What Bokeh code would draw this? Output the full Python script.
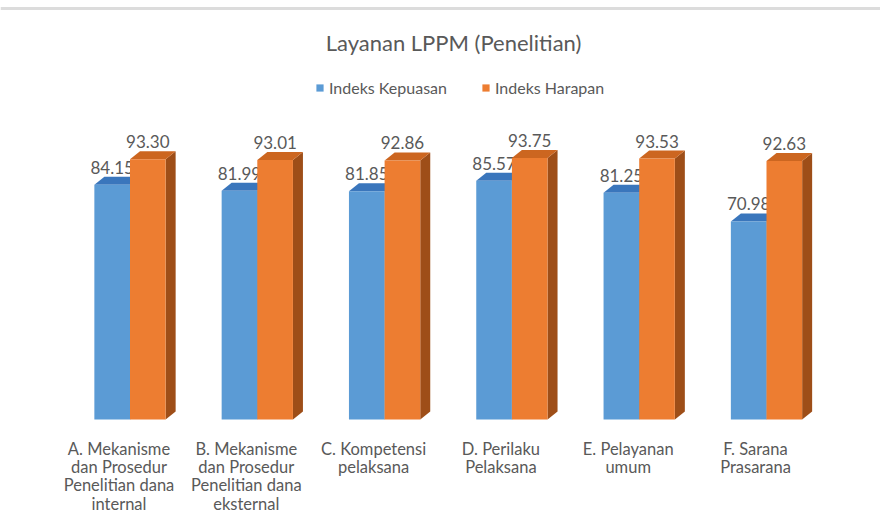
from bokeh.plotting import figure
from bokeh.models import Range1d, ColumnDataSource, Legend, LegendItem, Label, Span
from bokeh.embed import file_html
from bokeh.resources import INLINE
from bokeh.core.properties import value

# ---- data ----
categories = [
    "A. Mekanisme\ndan Prosedur\nPenelitian dana\ninternal",
    "B. Mekanisme\ndan Prosedur\nPenelitian dana\neksternal",
    "C. Kompetensi\npelaksana",
    "D. Perilaku\nPelaksana",
    "E. Pelayanan\numum",
    "F. Sarana\nPrasarana",
]
kepuasan = [84.15, 81.99, 81.85, 85.57, 81.25, 70.98]
harapan = [93.30, 93.01, 92.86, 93.75, 93.53, 92.63]
series_names = ["Indeks Kepuasan", "Indeks Harapan"]
chart_title = "Layanan LPPM (Penelitian)"

# ---- layout ----
FONT = "Lato"
TEXT_COLOR = "#595959"
W, H = 880, 514
PX_PER_CAT = 127.3
PX_PER_UNIT = 2.79
X0_PX = 129.5     # frame x of first category centre
Y0_PX = 419       # frame y (from top) of value 0
BAR_W = 0.28
DX = 10 / PX_PER_CAT
DY = 8 / PX_PER_UNIT

x_range = Range1d(-X0_PX / PX_PER_CAT, (W - X0_PX) / PX_PER_CAT)
y_range = Range1d(-(H - Y0_PX) / PX_PER_UNIT, Y0_PX / PX_PER_UNIT)

p = figure(width=W, height=H, x_range=x_range, y_range=y_range,
           output_backend="svg", toolbar_location=None, min_border=0,
           outline_line_color=None, background_fill_color="white",
           border_fill_color="white")
p.xaxis.visible = False
p.yaxis.visible = False
p.grid.visible = False

idx = list(range(len(categories)))


def bar_sources(vals, offset):
    left = [i + offset for i in idx]
    right = [l + BAR_W for l in left]
    front = ColumnDataSource(dict(left=left, right=right, top=vals,
                                  bottom=[0] * len(vals)))
    cap = ColumnDataSource(dict(
        xs=[[l, r, r + DX, l + DX] for l, r in zip(left, right)],
        ys=[[v, v, v + DY, v + DY] for v in vals]))
    side = ColumnDataSource(dict(
        xs=[[r, r + DX, r + DX, r] for r in right],
        ys=[[0, DY, v + DY, v] for v in vals]))
    lab = ColumnDataSource(dict(x=[(l + r) / 2 for l, r in zip(left, right)],
                                y=[v + DY for v in vals],
                                text=["%.2f" % v for v in vals]))
    return front, cap, side, lab


renderers = []
styles = [("#5B9BD5", "#3A76BC", "#3A6EA8"), ("#ED7D31", "#CC6620", "#9E4E18")]
for vals, off, (c_front, c_top, c_side) in zip([kepuasan, harapan], [-BAR_W, 0], styles):
    front, cap, side, lab = bar_sources(vals, off)
    p.patches("xs", "ys", source=side, fill_color=c_side, line_color=None)
    p.patches("xs", "ys", source=cap, fill_color=c_top, line_color=None)
    r = p.quad(left="left", right="right", bottom="bottom", top="top",
               source=front, fill_color=c_front, line_color=None)
    renderers.append(r)
    p.text(x="x", y="y", text="text", source=lab, text_align="center",
           text_baseline="bottom", y_offset=-3, text_color=TEXT_COLOR,
           text_font=value(FONT), text_font_size="17px")

# category labels
p.text(x=idx, y=[0] * len(idx), text=categories, x_offset=-11, y_offset=19,
       text_align="center", text_baseline="top", text_color=TEXT_COLOR,
       text_font=value(FONT), text_font_size="16.5px", text_line_height=0.92)

# title
p.add_layout(Label(x=453, y=H - 42, x_units="screen", y_units="screen",
                   text=chart_title, text_align="center", text_baseline="middle",
                   text_font=FONT, text_font_size="22px", text_color=TEXT_COLOR))

legend = Legend(items=[LegendItem(label=n, renderers=[r]) for n, r in zip(series_names, renderers)],
                orientation="horizontal", location=(315, H - 97),
                glyph_width=9, glyph_height=9, label_height=20, label_text_font=FONT,
                label_text_font_size="16px", label_text_color=TEXT_COLOR,
                padding=0, margin=0, spacing=34, label_standoff=5,
                border_line_color=None, background_fill_alpha=0)
p.add_layout(legend)

p.add_layout(Span(location=(Y0_PX - 8) / PX_PER_UNIT, dimension="width",
                  line_color="#dcdcdc", line_width=3))

open("out.html", "w").write(file_html(p, INLINE))
